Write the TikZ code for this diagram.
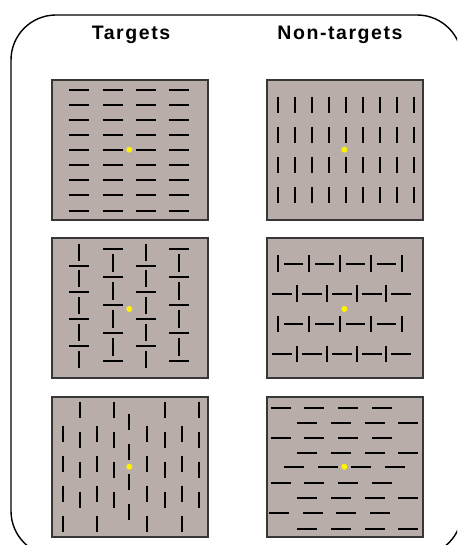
\documentclass[tikz,border=0pt]{standalone}
\usepackage{fontspec}
\setmainfont{Liberation Sans}
\newfontfamily\headfont[LetterSpace=8]{Liberation Sans}
\definecolor{stim}{RGB}{185,173,169}
\definecolor{rim}{RGB}{55,55,55}

\begin{document}
\begin{tikzpicture}[x=1pt,y=-1pt,
  panel/.style={fill=stim,draw=rim,line width=1.8pt},
  bar/.style={line width=2pt},
  fix/.style={fill=yellow},
  head/.style={anchor=base,font=\headfont\bfseries\fontsize{19.5}{20}\selectfont}]
  \useasboundingbox (0,0) rectangle (457,545);
  \clip (0,0) rectangle (457,545);
  \draw[line width=1.4pt,rounded corners=45pt] (11,15) rectangle (462,556);
  \node[head] (tgt) at (131,39.3) {Targets};
  \node[head] (ntgt) at (340,39.3) {Non-targets};
  \foreach \x in {51.7,266.7}
    \foreach \y in {80,238.3,396.7}
      \draw[panel] (\x,\y) rectangle +(156,140);
  % targets, top: horizontal bars
  \foreach \x in {79.3,112.7,146,179.3}
    \foreach \k in {0,...,8} \draw[bar] (\x-10,90.5+15*\k) -- +(20,0);
  % non-targets, top: vertical bars
  \foreach \k in {0,...,8}
    \foreach \y in {105,135,165,195} \draw[bar] (278.3+16.93*\k,\y-8.3) -- +(0,16.7);
  % targets, middle
  \foreach \x in {79.3,146} {
    \foreach \k in {0,...,4} \draw[bar] (\x,243.5+26.75*\k) -- +(0,17);
    \foreach \k in {0,...,3} \draw[bar] (\x-10,265.5+26.75*\k) -- +(20,0);}
  \foreach \x in {112.7,179.3} {
    \foreach \k in {0,...,4} \draw[bar] (\x-10,249.3+27.85*\k) -- +(20,0);
    \foreach \k in {0,...,3} \draw[bar] (\x,254+27.85*\k) -- +(0,18);}
  % non-targets, middle
  \foreach \y in {263.5,324} {
    \foreach \k in {0,...,4} \draw[bar] (278.3+31*\k,\y-8.3) -- +(0,16.7);
    \foreach \k in {0,...,3} \draw[bar] (284+31*\k,\y) -- +(19,0);}
  \foreach \y in {293.5,354} {
    \foreach \k in {0,...,4} \draw[bar] (272.3+29.75*\k,\y) -- +(20,0);
    \foreach \k in {0,...,3} \draw[bar] (297+29.75*\k,\y-8.3) -- +(0,16.7);}
  % targets, bottom
  \foreach \x/\y in {63.3/425.7,96.7/425.7,147.3/425.7,181.7/425.7,
      80/401.7,114/401.7,164.7/401.7,198.7/401.7,129.3/413.7}
    \foreach \k in {0,...,3} \draw[bar] (\x,\y+30*\k) -- +(0,16.7);
  % non-targets, bottom
  \foreach \x/\y in {270.7/407.7,297.3/422.7,270.7/437.7,297.3/453,284.2/466.7,
      270.7/483.3,297.3/498.3,269.2/513.3,297.3/529}
    \foreach \k in {0,...,3} \draw[bar] (\x+33.6*\k,\y) -- +(20,0);
  \foreach \x in {129.3,344.3}
    \foreach \y in {149.7,309,466.7} \fill[fix] (\x,\y) circle (3);
\end{tikzpicture}
\end{document}
